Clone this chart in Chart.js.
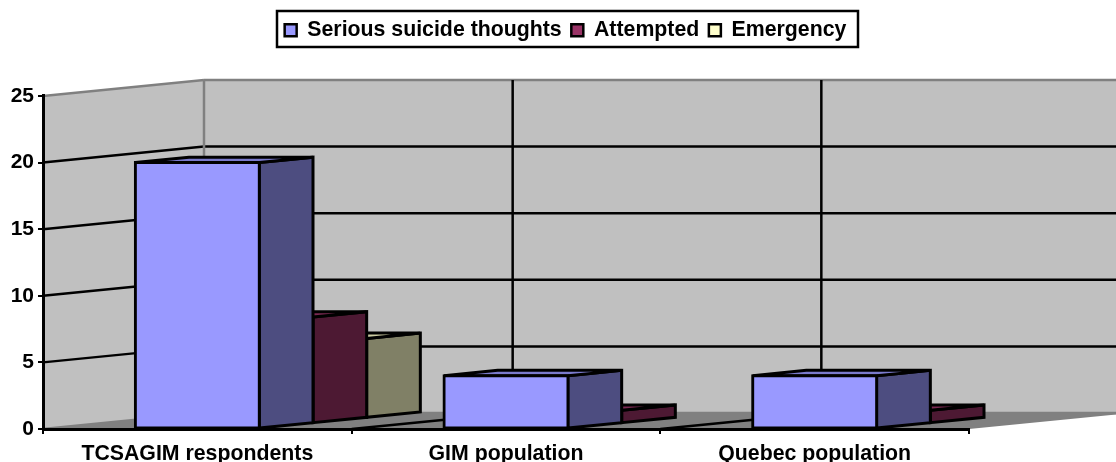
<!DOCTYPE html>
<html>
<head>
<meta charset="utf-8">
<title>Suicide thoughts chart</title>
<script src="https://cdn.jsdelivr.net/npm/chart.js@4"></script>
<style>
  html, body { margin: 0; padding: 0; background: #fff; }
  canvas { display: block; }
</style>
</head>
<body>
<canvas id="chart" width="1116" height="462"></canvas>
<script>
  // ====== Data ======
  const categories = ["TCSAGIM respondents", "GIM population", "Quebec population"];
  const seriousThoughts = [20, 4, 4];
  const attempted = [8, 1, 1];
  const emergency = [6, 0, 0];
  const yTicks = [0, 5, 10, 15, 20, 25];

  // ====== Look ======
  const FRONT = ["#9999FF", "#993366", "#FFFFCC"];
  const SIDE = ["#4D4D80", "#4D1933", "#808066"];
  const TOP = ["#7A7ACC", "#7A2952", "#CCCCA3"];
  const DEPTH_X = 161;   // full floor depth, in pixels
  const DEPTH_Y = -16;
  const STEP_X = DEPTH_X / 3;  // one series row of depth
  const STEP_Y = DEPTH_Y / 3;
  const LEGEND_SHIFT = 81;     // legend is centred on the whole page, not the plot

  function poly(ctx, pts, fill, stroke, width) {
    ctx.beginPath();
    pts.forEach((p, i) => (i ? ctx.lineTo(p[0], p[1]) : ctx.moveTo(p[0], p[1])));
    ctx.closePath();
    if (fill) { ctx.fillStyle = fill; ctx.fill(); }
    if (stroke) { ctx.strokeStyle = stroke; ctx.lineWidth = width; ctx.stroke(); }
  }

  function line(ctx, x1, y1, x2, y2, color, width) {
    ctx.beginPath();
    ctx.moveTo(x1, y1);
    ctx.lineTo(x2, y2);
    ctx.strokeStyle = color;
    ctx.lineWidth = width;
    ctx.stroke();
  }

  // Walls and floor, behind everything
  const roomPlugin = {
    id: "room",
    beforeDraw(chart) {
      const { ctx, scales: { x, y } } = chart;
      const left = x.left, right = x.right;
      const y0 = y.getPixelForValue(0), yMax = y.getPixelForValue(yTicks[yTicks.length - 1]);
      ctx.save();
      poly(ctx, [[left, y0], [left + DEPTH_X, y0 + DEPTH_Y], [left + DEPTH_X, yMax + DEPTH_Y], [left, yMax]], "#C0C0C0");
      ctx.fillStyle = "#C0C0C0";
      ctx.fillRect(left + DEPTH_X, yMax + DEPTH_Y, right - left, y0 - yMax);
      poly(ctx, [[left, y0], [left + DEPTH_X, y0 + DEPTH_Y], [right + DEPTH_X, y0 + DEPTH_Y], [right, y0]], "#808080");

      // value gridlines: along the left wall, then along the back wall
      for (const v of yTicks) {
        const py = y.getPixelForValue(v);
        const edge = v === 0 || v === yTicks[yTicks.length - 1];
        const color = edge ? "#808080" : "#000";
        line(ctx, left, py, left + DEPTH_X, py + DEPTH_Y, color, 2.5);
        line(ctx, left + DEPTH_X, py + DEPTH_Y, right + DEPTH_X, py + DEPTH_Y, color, 2.5);
      }

      // category gridlines: up the back wall, then across the floor
      const step = (right - left) / categories.length;
      for (let i = 0; i < categories.length; i++) {
        const bx = left + i * step + DEPTH_X;
        line(ctx, bx, y0 + DEPTH_Y, bx, yMax + DEPTH_Y, i === 0 ? "#808080" : "#000", 2.5);
        if (i > 0) line(ctx, left + i * step, y0, bx, y0 + DEPTH_Y, "#000", 2.5);
      }
      ctx.restore();
    }
  };

  // Each series sits one row further back, with its side and top faces
  const depthBarsPlugin = {
    id: "depthBars",
    beforeDatasetDraw(chart, args) {
      const ctx = chart.ctx;
      const i = args.index;
      ctx.save();
      ctx.translate(i * STEP_X, i * STEP_Y);
      for (const bar of args.meta.data) {
        const { x, y, base, width } = bar.getProps(["x", "y", "base", "width"]);
        if (base - y < 0.5) continue;
        const r = x + width / 2, l = x - width / 2;
        poly(ctx, [[r, y], [r + STEP_X, y + STEP_Y], [r + STEP_X, base + STEP_Y], [r, base]], SIDE[i], "#000", 3);
        poly(ctx, [[l, y], [l + STEP_X, y + STEP_Y], [r + STEP_X, y + STEP_Y], [r, y]], TOP[i], "#000", 3);
      }
    },
    afterDatasetDraw(chart) {
      chart.ctx.restore();
    }
  };

  // Room under the legend, its place on the page, and its outline
  const legendBoxPlugin = {
    id: "legendBox",
    beforeInit(chart) {
      const legend = chart.legend;
      const fit = legend.fit;
      const draw = legend.draw;
      legend.fit = function () {
        fit.call(this);
        this.height += 45;
      };
      legend.draw = function () {
        chart.ctx.save();
        chart.ctx.translate(LEGEND_SHIFT, 0);
        draw.call(this);
        chart.ctx.restore();
      };
    },
    afterDraw(chart) {
      const ctx = chart.ctx;
      ctx.save();
      ctx.strokeStyle = "#000";
      ctx.lineWidth = 2.5;
      ctx.strokeRect(277, 11, 581, 36);
      ctx.restore();
    }
  };

  const dataset = (label, data, i) => ({
    label,
    data,
    backgroundColor: FRONT[i],
    borderColor: "#000",
    borderWidth: (c) => (c.raw > 0 ? 3 : 0),
    inflateAmount: (c) => (c.raw > 0 ? 1.5 : 0),
    borderSkipped: false,
    barThickness: 124,
    grouped: false,
    clip: false
  });

  new Chart(document.getElementById("chart").getContext("2d"), {
    type: "bar",
    data: {
      labels: categories,
      datasets: [
        dataset("Serious suicide thoughts", seriousThoughts, 0),
        dataset("Attempted", attempted, 1),
        dataset("Emergency", emergency, 2)
      ]
    },
    options: {
      responsive: false,
      animation: false,
      layout: { padding: { left: 0, right: 147, top: 10, bottom: 0 } },
      plugins: {
        tooltip: { enabled: false },
        legend: {
          position: "top",
          align: "center",
          labels: {
            color: "#000",
            font: { family: "Liberation Sans", size: 21.3, weight: "bold" },
            boxWidth: 12,
            boxHeight: 12,
            padding: 9.6,
            generateLabels(chart) {
              return chart.data.datasets.map((d, i) => ({
                text: d.label,
                fillStyle: FRONT[i],
                strokeStyle: "#000",
                lineWidth: 2.5,
                datasetIndex: i,
                fontColor: "#000"
              }));
            }
          }
        }
      },
      scales: {
        x: {
          afterFit(scale) { scale.height = 33; },
          grid: { drawOnChartArea: false, drawTicks: true, tickLength: 5, tickColor: "#000", lineWidth: 2 },
          border: { color: "#000", width: 3 },
          ticks: {
            color: "#000",
            padding: 7,
            maxRotation: 0,
            autoSkip: false,
            font: { family: "Liberation Sans", size: 21.3, weight: "bold" }
          }
        },
        y: {
          min: 0,
          max: 25,
          afterFit(scale) { scale.width = 43; },
          grid: { drawOnChartArea: false, drawTicks: true, tickLength: 5, tickColor: "#000", lineWidth: 2 },
          border: { color: "#000", width: 3 },
          ticks: {
            color: "#000",
            stepSize: 5,
            padding: 4,
            font: { family: "Liberation Sans", size: 21, weight: "bold" }
          }
        }
      }
    },
    plugins: [roomPlugin, depthBarsPlugin, legendBoxPlugin]
  });
</script>
</body>
</html>
